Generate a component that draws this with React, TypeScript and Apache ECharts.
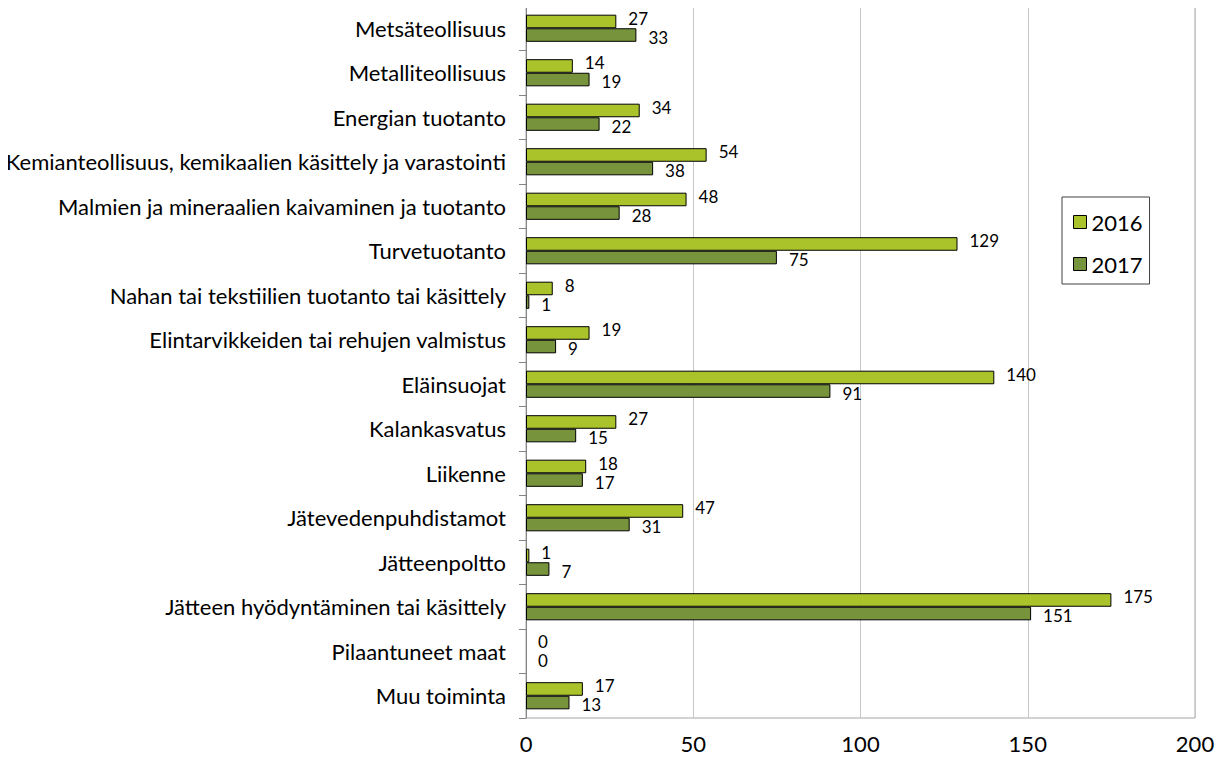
import React, { useEffect, useRef } from "react";
import * as echarts from "echarts";

const categories = [
  "Metsäteollisuus",
  "Metalliteollisuus",
  "Energian tuotanto",
  "Kemianteollisuus, kemikaalien käsittely ja varastointi",
  "Malmien ja mineraalien kaivaminen ja tuotanto",
  "Turvetuotanto",
  "Nahan tai tekstiilien tuotanto tai käsittely",
  "Elintarvikkeiden tai rehujen valmistus",
  "Eläinsuojat",
  "Kalankasvatus",
  "Liikenne",
  "Jätevedenpuhdistamot",
  "Jätteenpoltto",
  "Jätteen hyödyntäminen tai käsittely",
  "Pilaantuneet maat",
  "Muu toiminta",
];
const values2016 = [27, 14, 34, 54, 48, 129, 8, 19, 140, 27, 18, 47, 1, 175, 0, 17];
const values2017 = [33, 19, 22, 38, 28, 75, 1, 9, 91, 15, 17, 31, 7, 151, 0, 13];
const xTicks = { min: 0, max: 200, interval: 50 };

const FONT = "Lato";

const toData = (vals: number[]) =>
  vals.map((v) => (v === 0 ? { value: v, itemStyle: { borderWidth: 0 } } : v));

export default function App() {
  const ref = useRef<HTMLDivElement>(null);
  useEffect(() => {
    if (!ref.current) return;
    const chart = echarts.init(ref.current, undefined, { renderer: "svg" });
    chart.setOption({
      animation: false,
      textStyle: { fontFamily: FONT },
      grid: {
        left: 526,
        right: 34,
        top: 6,
        bottom: 42,
        show: true,
        borderColor: "#a6a6a6",
        borderWidth: 1,
      },
      legend: {
        orient: "vertical",
        left: 1062,
        top: 197,
        padding: [14, 7, 9, 11],
        borderColor: "#404040",
        borderWidth: 1,
        itemWidth: 13,
        itemHeight: 13,
        itemGap: 20,
        itemTextGap: 8,
        icon: "rect",
        textStyle: { fontFamily: FONT, fontSize: 22, color: "#000" },
        data: [
          { name: "2016", itemStyle: { borderColor: "#000", borderWidth: 1 } },
          { name: "2017", itemStyle: { borderColor: "#000", borderWidth: 1 } },
        ],
      },
      xAxis: {
        type: "value",
        min: xTicks.min,
        max: xTicks.max,
        interval: xTicks.interval,
        axisLine: { show: false },
        axisTick: { show: false },
        splitLine: { lineStyle: { color: "#c8c8c8", width: 1 } },
        axisLabel: { fontFamily: FONT, fontSize: 22, color: "#000", margin: 14 },
      },
      yAxis: {
        type: "category",
        data: categories,
        inverse: true,
        axisLine: { show: true, lineStyle: { color: "#868686" } },
        axisTick: { show: true, length: 7, lineStyle: { color: "#868686" } },
        axisLabel: { fontFamily: FONT, fontSize: 22, color: "#000", margin: 20 },
      },
      series: [
        {
          name: "2016",
          type: "bar",
          data: toData(values2016),
          barGap: "0%",
          barCategoryGap: "39%",
          itemStyle: { color: "#aac32b", borderColor: "#000", borderWidth: 1 },
          label: {
            show: true,
            position: "right",
            offset: [7, -3],
            fontFamily: FONT,
            fontSize: 17,
            lineHeight: 17,
            color: "#000",
          },
        },
        {
          name: "2017",
          type: "bar",
          data: toData(values2017),
          barGap: "0%",
          barCategoryGap: "39%",
          itemStyle: { color: "#77933c", borderColor: "#000", borderWidth: 1 },
          label: {
            show: true,
            position: "right",
            offset: [7, 2],
            fontFamily: FONT,
            fontSize: 17,
            lineHeight: 17,
            color: "#000",
          },
        },
      ],
    });
    return () => chart.dispose();
  }, []);
  return <div ref={ref} style={{ width: 1229, height: 760, margin: -8 }} />;
}
